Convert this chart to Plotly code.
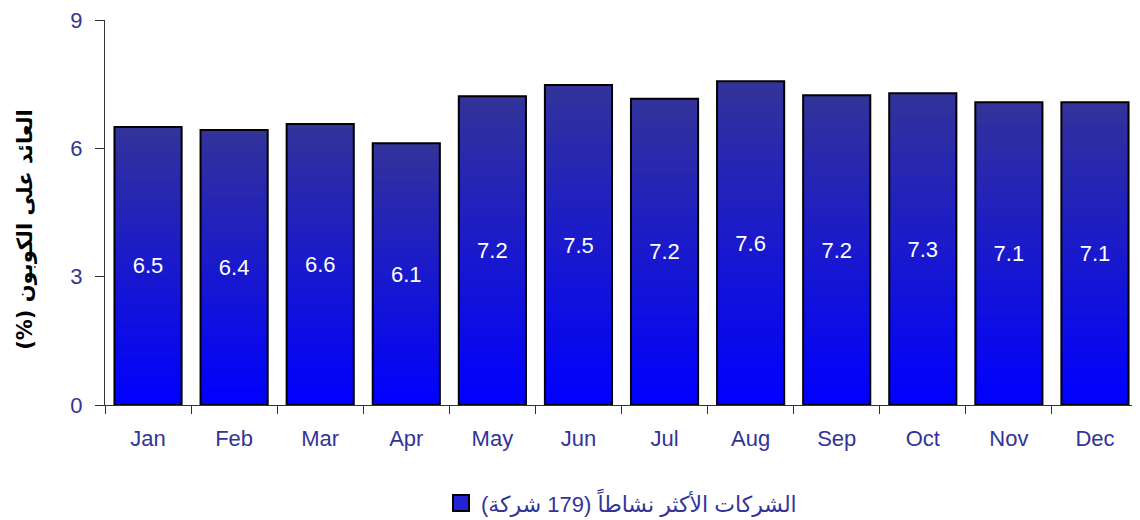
import plotly.graph_objects as go

months = ["Jan", "Feb", "Mar", "Apr", "May", "Jun", "Jul", "Aug", "Sep", "Oct", "Nov", "Dec"]
yields = [6.5, 6.43, 6.57, 6.12, 7.22, 7.48, 7.16, 7.57, 7.24, 7.29, 7.08, 7.08]
y_ticks = [0, 3, 6, 9]
series_name = "الشركات الأكثر نشاطاً (179 شركة)"
y_title = "<b>العائد على الكوبون (%)\u200f</b>"

N_SLICES = 60
bottom_rgb = (0, 0, 255)
top_rgb = (51, 51, 153)

fig = go.Figure()

# gradient: each slice runs from its base up to the bar top; later slices cover earlier ones
for i in range(N_SLICES):
    t = (i + 0.5) / N_SLICES
    r, g, b = [round(bottom_rgb[k] + (top_rgb[k] - bottom_rgb[k]) * t) for k in range(3)]
    fig.add_trace(go.Bar(
        x=months,
        y=[v * (N_SLICES - i) / N_SLICES for v in yields],
        base=[v * i / N_SLICES for v in yields],
        marker=dict(color=f"rgb({r},{g},{b})", line=dict(width=0)),
        showlegend=False,
        hoverinfo="skip",
    ))

fig.add_trace(go.Bar(
    x=months,
    y=yields,
    marker=dict(color="rgba(0,0,0,0)", line=dict(color="black", width=2)),
    texttemplate="%{y:.1f}",
    textposition="inside",
    insidetextanchor="middle",
    textfont=dict(color="white", size=22, family="Liberation Sans, Arial, sans-serif"),
    showlegend=False,
    name="",
))

fig.add_trace(go.Scatter(
    x=[None],
    y=[None],
    mode="markers",
    name=series_name,
    marker=dict(symbol="square", size=16, color="#2323d6", line=dict(color="black", width=2)),
    showlegend=True,
))

fig.add_annotation(
    text=y_title,
    xref="paper", yref="paper",
    x=-0.0774, y=0.455,
    xanchor="center", yanchor="middle",
    textangle=-90,
    showarrow=False,
    font=dict(size=21, color="black", family="DejaVu Sans, sans-serif"),
)

fig.update_layout(
    width=1132,
    height=512,
    barmode="overlay",
    bargap=0.22,
    plot_bgcolor="white",
    paper_bgcolor="white",
    margin=dict(l=97, r=2, t=12, b=115, autoexpand=False),
    font=dict(family="Liberation Sans, Arial, DejaVu Sans, sans-serif", size=22, color="#333399"),
    showlegend=True,
    legend=dict(
        orientation="h",
        x=0.5, xanchor="center",
        y=-0.255, yanchor="middle",
        font=dict(size=22, color="#333399"),
        itemsizing="trace",
        itemwidth=30,
    ),
    xaxis=dict(
        showline=True, linecolor="#333333", linewidth=1,
        ticks="outside", tickson="boundaries", ticklen=8, tickcolor="#333333",
        showgrid=False,
        tickfont=dict(size=22, color="#333399"),
        ticklabelstandoff=14,
        automargin=False,
    ),
    yaxis=dict(
        range=[0, 9],
        tickvals=y_ticks,
        showline=True, linecolor="#333333", linewidth=1,
        ticks="outside", ticklen=9, tickcolor="#333333",
        showgrid=False, zeroline=False,
        tickfont=dict(size=22, color="#333399"),
        ticklabelstandoff=8,
        ticklabeloverflow="allow",
        automargin=False,
    ),
)

fig.write_html("out.html")
